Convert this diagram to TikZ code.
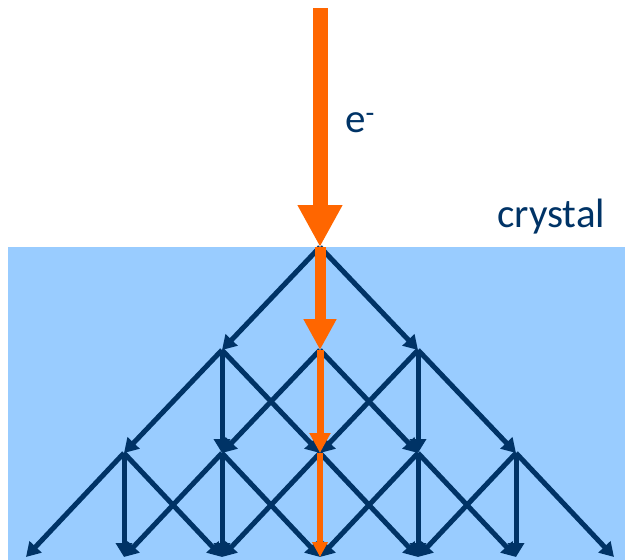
\documentclass[tikz,border=0pt]{standalone}
\usepackage{fontspec}
\setmainfont{Carlito}
\usetikzlibrary{arrows.meta}
\definecolor{beamOrange}{RGB}{255,102,0}
\definecolor{crystalBlue}{RGB}{153,204,255}
\definecolor{latticeNavy}{RGB}{0,51,102}
\tikzset{
  latticeArrow/.style={-{Triangle[length=14pt, width=16pt]}, line width=5pt, draw=latticeNavy},
  beamArrow/.style n args={2}{-{Triangle[length=#2pt, width=#2pt]}, line width=#1pt, draw=beamOrange, fill=beamOrange},
  labelText/.style={text=latticeNavy, font=\fontsize{41}{49}\selectfont, inner sep=0pt, anchor=base west}
}
\begin{document}
\begin{tikzpicture}[x=1pt, y=-1pt]
      \useasboundingbox (0,0) rectangle (625,560);
      \fill[crystalBlue] (8,247) rectangle (625,560);
      % lattice points
      \coordinate (src) at (320,8);
      \coordinate (p0) at (320,247);
      \coordinate (q1) at (222,350);
      \coordinate (q2) at (320,350);
      \coordinate (q3) at (418,350);
      \coordinate (r1) at (124,453);
      \coordinate (r2) at (222,453);
      \coordinate (r3) at (320,453);
      \coordinate (r4) at (418,453);
      \coordinate (r5) at (516,453);
      \coordinate (s1) at (26,557);
      \coordinate (s2) at (124,557);
      \coordinate (s3) at (222,557);
      \coordinate (s4) at (320,557);
      \coordinate (s5) at (418,557);
      \coordinate (s6) at (516,557);
      \coordinate (s7) at (614,557);
      % scattered beams
      \foreach \a/\b in {p0/q1, p0/q3,
                         q1/r1, q1/r2, q1/r3, q2/r2, q2/r4, q3/r3, q3/r4, q3/r5,
                         r1/s1, r1/s2, r1/s3, r2/s2, r2/s3, r2/s4, r3/s3, r3/s5,
                         r4/s4, r4/s5, r4/s6, r5/s5, r5/s6, r5/s7}
        \draw[latticeArrow] (\a) -- (\b);
      % primary beam
      \draw[beamArrow={15}{42}] (src) -- (p0);
      \draw[beamArrow={11}{31}] (p0) -- (q2);
      \draw[beamArrow={7}{20}] (q2) -- (r3);
      \draw[beamArrow={6}{15}] (r3) -- (s4);
      \node[labelText] (elabel) at (345,132) {e\textsuperscript{-}};
      \node[labelText] (crystallabel) at (497,227) {crystal};
\end{tikzpicture}
\end{document}
